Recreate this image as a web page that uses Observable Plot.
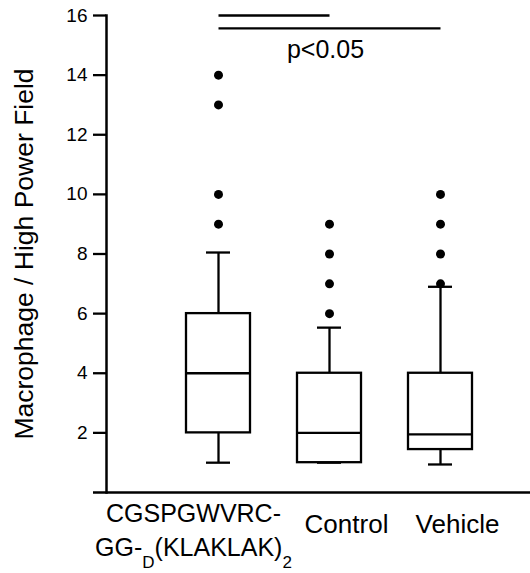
<!DOCTYPE html>
<html>
<head>
<meta charset="utf-8">
<script src="https://cdn.jsdelivr.net/npm/d3@7"></script>
<script src="https://cdn.jsdelivr.net/npm/@observablehq/plot@0.6"></script>
<style>
  html, body { margin: 0; padding: 0; background: #fff; }
  #chart svg { display: block; }
</style>
</head>
<body>
<div id="chart"></div>
<script>
// ---- data ----
const groups = ["CGSPGWVRC-\nGG-D(KLAKLAK)2", "Control", "Vehicle"];
const q1 = [2, 1, 1.44];
const median = [4, 2, 1.95];
const q3 = [6, 4, 4];
const whiskerLow = [1, 1, 0.94];
const whiskerHigh = [8.05, 5.53, 6.9];
const outlierGroup = [0, 0, 0, 0, 1, 1, 1, 1, 2, 2, 2, 2];
const outlierValue = [9, 10, 13, 14, 6, 7, 8, 9, 7, 8, 9, 10];
const sigFrom = [0, 0];
const sigTo = [1, 2];
const sigLevel = [16, 15.57];
const sigText = ["p<0.05"];
const sigTextGroup = [1];
const sigTextLevel = [14.85];
const yTicks = [2, 4, 6, 8, 10, 12, 14, 16];
const yTitle = "Macrophage / High Power Field";

// ---- tables built from the arrays ----
const boxes = groups.map((g, i) => ({group: g, q1: q1[i], median: median[i], q3: q3[i], lo: whiskerLow[i], hi: whiskerHigh[i]}));
const outliers = outlierGroup.map((gi, i) => ({group: groups[gi], value: outlierValue[i]}));
const sig = sigFrom.map((f, i) => ({from: groups[f], to: groups[sigTo[i]], y: sigLevel[i]}));
const sigLabels = sigText.map((t, i) => ({text: t, group: groups[sigTextGroup[i]], y: sigTextLevel[i]}));

const SW = 2.3;
const plot = Plot.plot({
  width: 530,
  height: 573,
  marginTop: 15,
  marginBottom: 81,
  marginLeft: 106,
  marginRight: 0,
  style: {fontFamily: "'Liberation Sans', Arial, Helvetica, sans-serif", background: "white", color: "black"},
  x: {domain: groups, paddingInner: 0.42, paddingOuter: 0.611, align: 0.584, axis: null},
  y: {domain: [0, 16]},
  marks: [
    Plot.axisY({ticks: yTicks, tickSize: 13, tickPadding: 6, fontSize: 19, strokeWidth: SW, label: null}),
    Plot.frame({anchor: "left", strokeWidth: 2.5}),
    Plot.ruleY([0], {strokeWidth: 2.5, insetLeft: -13}),
    // whiskers
    Plot.ruleX(boxes, {x: "group", y1: "q3", y2: "hi", strokeWidth: SW}),
    Plot.ruleX(boxes, {x: "group", y1: "lo", y2: "q1", strokeWidth: SW}),
    Plot.tickY(boxes, {x: "group", y: "hi", insetLeft: 20, insetRight: 20, strokeWidth: SW}),
    Plot.tickY(boxes, {x: "group", y: "lo", insetLeft: 20, insetRight: 20, strokeWidth: SW}),
    // boxes
    Plot.barY(boxes, {x: "group", y1: "q1", y2: "q3", fill: "white", stroke: "black", strokeWidth: SW}),
    Plot.tickY(boxes, {x: "group", y: "median", strokeWidth: SW}),
    // outliers
    Plot.dot(outliers, {x: "group", y: "value", r: 4.5, fill: "black", stroke: "none"}),
    // significance
    Plot.link(sig, {x1: "from", x2: "to", y1: "y", y2: "y", strokeWidth: SW}),
    Plot.text(sigLabels, {x: "group", y: "y", text: "text", fontSize: 25, dx: -4, lineAnchor: "middle"}),
    // y title
    Plot.text([yTitle], {text: d => d, frameAnchor: "left", textAnchor: "middle", rotate: -90, dx: -82, fontSize: 26.5, lineAnchor: "middle"}),
    // x labels
    Plot.text(groups.slice(0, 1), {x: d => d, text: d => d, frameAnchor: "bottom", lineAnchor: "top", dy: 5, dx: -25, fontSize: 25, lineHeight: 1.38}),
    Plot.text(groups.slice(1), {x: d => d, text: d => d, frameAnchor: "bottom", lineAnchor: "top", dy: 22, dx: 17, fontSize: 26})
  ]
});

// subscripts in the peptide label (GG-_D(KLAKLAK)_2)
const NS = "http://www.w3.org/2000/svg";
const target = [...plot.querySelectorAll("tspan, text")].find(n => n.childElementCount === 0 && n.textContent === "GG-D(KLAKLAK)2");
if (target) {
  target.textContent = "";
  const parts = [["GG-", false], ["D", true], ["(KLAKLAK)", false], ["2", true]];
  let down = false;
  for (const [s, sub] of parts) {
    const ts = document.createElementNS(NS, "tspan");
    ts.textContent = s;
    if (sub) {
      ts.setAttribute("font-size", "17");
      if (!down) { ts.setAttribute("dy", "12"); down = true; }
    } else if (down) {
      ts.setAttribute("dy", "-12"); down = false;
    }
    target.appendChild(ts);
  }
}

document.getElementById("chart").appendChild(plot);
</script>
</body>
</html>
